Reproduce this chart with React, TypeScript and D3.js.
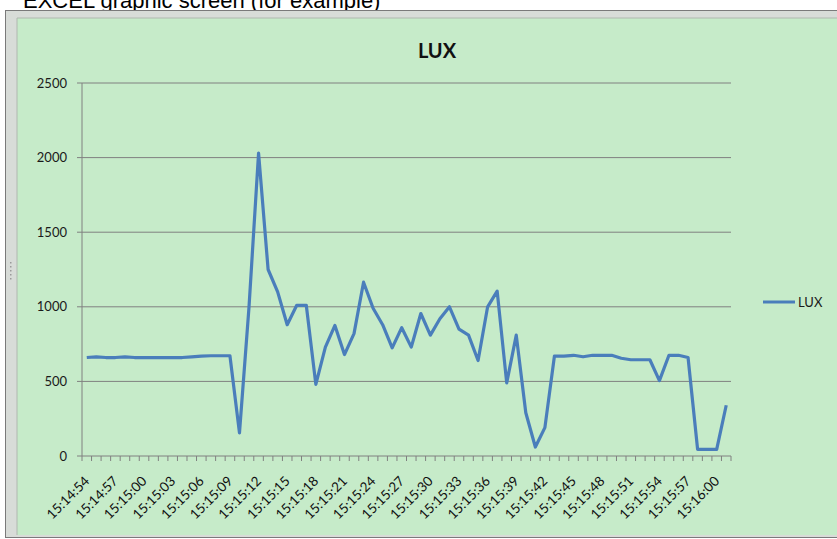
import * as d3 from 'd3'

// one reading per second
const times = [
  '15:14:54', '15:14:55', '15:14:56', '15:14:57', '15:14:58', '15:14:59',
  '15:15:00', '15:15:01', '15:15:02', '15:15:03', '15:15:04', '15:15:05',
  '15:15:06', '15:15:07', '15:15:08', '15:15:09', '15:15:10', '15:15:11',
  '15:15:12', '15:15:13', '15:15:14', '15:15:15', '15:15:16', '15:15:17',
  '15:15:18', '15:15:19', '15:15:20', '15:15:21', '15:15:22', '15:15:23',
  '15:15:24', '15:15:25', '15:15:26', '15:15:27', '15:15:28', '15:15:29',
  '15:15:30', '15:15:31', '15:15:32', '15:15:33', '15:15:34', '15:15:35',
  '15:15:36', '15:15:37', '15:15:38', '15:15:39', '15:15:40', '15:15:41',
  '15:15:42', '15:15:43', '15:15:44', '15:15:45', '15:15:46', '15:15:47',
  '15:15:48', '15:15:49', '15:15:50', '15:15:51', '15:15:52', '15:15:53',
  '15:15:54', '15:15:55', '15:15:56', '15:15:57', '15:15:58', '15:15:59',
  '15:16:00', '15:16:01',
]

const lux = [
  660, 665, 660, 660, 665, 660, 660, 660, 660, 660, 660, 665,
  670, 672, 672, 672, 155, 1000, 2030, 1250, 1100, 880, 1010, 1010,
  480, 730, 875, 680, 820, 1165, 990, 880, 725, 860, 730, 955,
  810, 920, 1000, 850, 810, 640, 1000, 1105, 490, 810, 290, 60,
  190, 670, 670, 675, 665, 675, 675, 675, 655, 645, 645, 645,
  505, 675, 675, 660, 45, 45, 45, 340,
]

const yTicks = [0, 500, 1000, 1500, 2000, 2500]

const W = 837
const H = 539
const plot = { left: 82, right: 731, top: 83, bottom: 456 }
const font = 'Lato, "Open Sans", sans-serif'

export default function App() {
  const x = d3.scaleBand<string>().domain(times).range([plot.left, plot.right])
  const y = d3.scaleLinear().domain([0, 2500]).range([plot.bottom, plot.top])
  const cx = (t: string) => (x(t) as number) + x.bandwidth() / 2

  const line = d3
    .line<number>()
    .x((_, i) => cx(times[i]))
    .y((d) => y(d))

  const tickXs = times.map((t) => x(t) as number).concat([plot.right])

  return (
    <svg width={W} height={H} style={{ position: 'absolute', left: 0, top: 0 }}>
      <rect width={W} height={H} fill="#ffffff" />
      <text x={23} y={8} fontFamily="Arial, 'Liberation Sans', sans-serif" fontSize={22} fill="#000">
        EXCEL graphic screen  (for example)
      </text>

      {/* window frame */}
      <rect x={5.5} y={10.5} width={W} height={527} fill="#d8dcd8" stroke="#7a7a7a" />
      <rect x={17} y={18} width={W} height={517} fill="#c6ebc9" />
      <line x1={17} x2={17} y1={18} y2={535} stroke="#b0b8b0" />
      <line x1={17} x2={W} y1={18} y2={18} stroke="#b0b8b0" />
      {d3.range(5).map((i) => (
        <rect key={i} x={10} y={262 + i * 4} width={1.5} height={1.5} fill="#9a9a9a" />
      ))}

      <text x={437} y={58} textAnchor="middle" fontFamily={font} fontWeight="bold" fontSize={20} fill="#111">
        LUX
      </text>

      {/* gridlines + y labels */}
      {yTicks.map((v) => (
        <g key={v}>
          {v > 0 && (
            <line x1={plot.left - 5} x2={plot.right} y1={y(v)} y2={y(v)} stroke="#808080" strokeWidth={1} />
          )}
          <text
            x={67}
            y={y(v)}
            dy="0.35em"
            textAnchor="end"
            fontFamily={font}
            fontSize={13}
            fill="#1a1a1a"
          >
            {v}
          </text>
        </g>
      ))}

      {/* axes */}
      <line x1={plot.left} x2={plot.left} y1={plot.top} y2={plot.bottom} stroke="#808080" />
      <line x1={plot.left - 5} x2={plot.right} y1={plot.bottom} y2={plot.bottom} stroke="#808080" />
      {tickXs.map((tx, i) => (
        <line key={i} x1={tx} x2={tx} y1={plot.bottom} y2={plot.bottom + 5} stroke="#808080" />
      ))}

      {times.map((t, i) =>
        i % 3 === 0 ? (
          <text
            key={t}
            transform={`translate(${cx(t) + 3.5},${482}) rotate(-45)`}
            textAnchor="end"
            fontFamily={font}
            fontSize={13.5}
            fill="#111"
          >
            {t}
          </text>
        ) : null
      )}

      <path d={line(lux) as string} fill="none" stroke="#4a7ebb" strokeWidth={3.2} strokeLinejoin="round" />

      {/* legend */}
      <line x1={763} x2={795} y1={302} y2={302} stroke="#4a7ebb" strokeWidth={3} />
      <text x={798} y={302} dy="0.35em" fontFamily={font} fontSize={13} fill="#1a1a1a">
        LUX
      </text>
    </svg>
  )
}
